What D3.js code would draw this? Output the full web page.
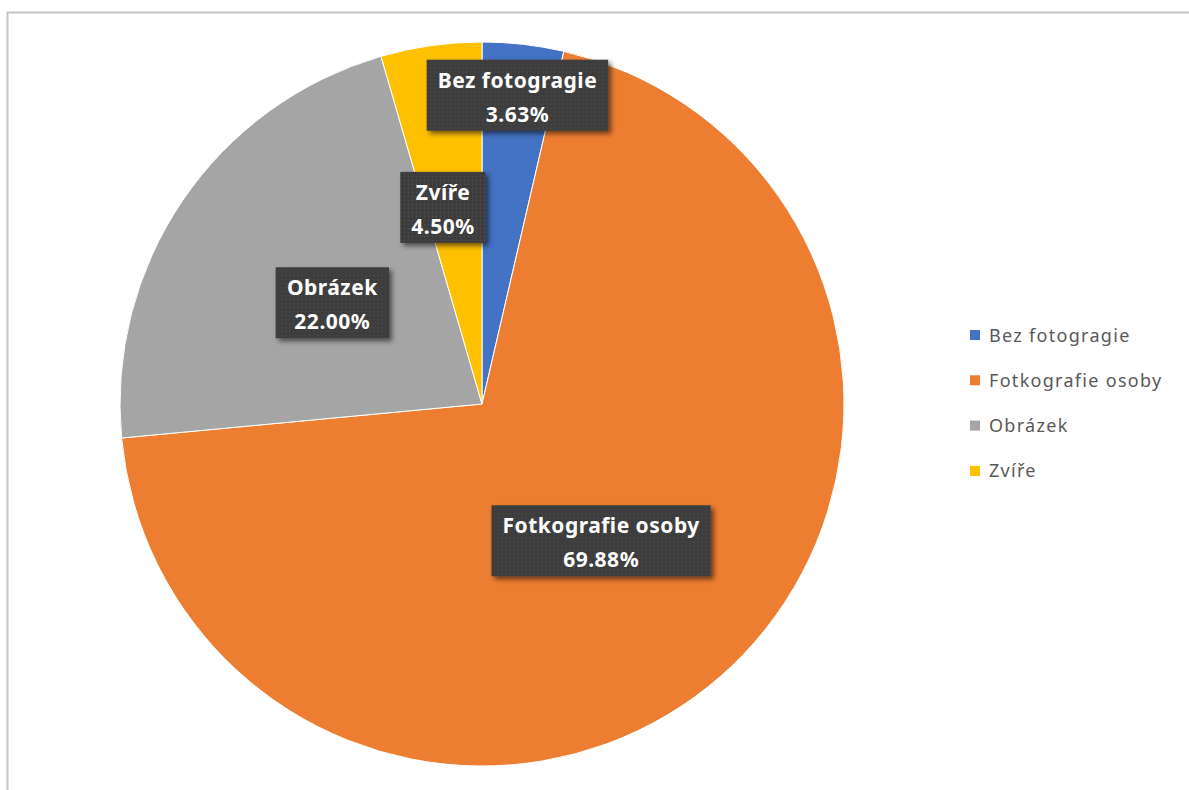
<!DOCTYPE html>
<html>
<head>
<meta charset="utf-8">
<script src="https://cdn.jsdelivr.net/npm/d3@7"></script>
<style>
  body { margin: 0; background: #fff; }
  svg { display: block; }
</style>
</head>
<body>
<script>
// data
const categories = ["Bez fotogragie", "Fotkografie osoby", "Obrázek", "Zvíře"];
const shares = [3.63, 69.88, 22.00, 4.50];
const colors = ["#4472C4", "#ED7D31", "#A5A5A5", "#FFC000"];

// where each data label sits (fraction of radius) and a little nudge
const labelRadius = [0.86, 0.5, 0.5, 0.55];
const labelNudge = [[0, 0], [0, 0], [0, 0], [-11, 0]];

function main() {
    const width = 1189, height = 790;
    const cx = 482, cy = 404, r = 362;

    let svg = d3.select("body").append("svg")
        .attr("width", width)
        .attr("height", height);

    // dotted dark fill + shadow for the labels
    let defs = svg.append("defs");
    let pat = defs.append("pattern")
        .attr("id", "dots")
        .attr("width", 4).attr("height", 4)
        .attr("patternUnits", "userSpaceOnUse");
    pat.append("rect").attr("width", 4).attr("height", 4).attr("fill", "#3c3c3c");
    pat.append("rect").attr("x", 1).attr("y", 1).attr("width", 1).attr("height", 1).attr("fill", "#555");

    let f = defs.append("filter").attr("id", "shadow")
        .attr("x", "-20%").attr("y", "-20%").attr("width", "140%").attr("height", "150%");
    f.append("feDropShadow")
        .attr("dx", 3).attr("dy", 3)
        .attr("stdDeviation", 2.5)
        .attr("flood-color", "#000")
        .attr("flood-opacity", 0.55);

    // chart area border (only top/left visible)
    svg.append("rect")
        .attr("x", 7.5).attr("y", 12.5)
        .attr("width", 1400).attr("height", 1000)
        .attr("fill", "none")
        .attr("stroke", "#c6c6c6")
        .attr("stroke-width", 2);

    const data = categories.map((c, i) => ({ name: c, value: shares[i], color: colors[i], i: i }));

    let pie = d3.pie().sort(null).value(d => d.value);
    let arcs = pie(data);
    let arc = d3.arc().innerRadius(0).outerRadius(r);

    let g = svg.append("g").attr("transform", `translate(${cx},${cy})`);

    g.selectAll("path.slice")
        .data(arcs)
        .join("path")
        .attr("class", "slice")
        .attr("d", arc)
        .attr("fill", d => d.data.color)
        .attr("stroke", "#fff")
        .attr("stroke-width", 1);

    // data labels
    let labels = g.selectAll("g.lbl")
        .data(arcs)
        .join("g")
        .attr("class", "lbl")
        .attr("transform", d => {
            let lr = labelRadius[d.data.i] * r;
            let c = d3.arc().innerRadius(lr).outerRadius(lr).centroid(d);
            let n = labelNudge[d.data.i];
            return `translate(${c[0] + n[0]},${c[1] + n[1]})`;
        });

    labels.each(function (d) {
        let el = d3.select(this);
        let box = el.append("rect")
            .attr("fill", "url(#dots)")
            .attr("filter", "url(#shadow)");
        let t = el.append("text")
            .attr("text-anchor", "middle")
            .attr("fill", "#fff")
            .style("font-family", "'Noto Sans', 'Open Sans', sans-serif")
            .style("font-weight", "bold")
            .style("font-size", "21px")
            .style("letter-spacing", "0.5px");
        t.append("tspan").attr("x", 0).attr("y", -7).text(d.data.name);
        t.append("tspan").attr("x", 0).attr("y", 27).text(d.data.value.toFixed(2) + "%");
        let w = t.node().getBBox().width + 22;
        box.attr("x", -w / 2).attr("y", -35).attr("width", w).attr("height", 71);
    });

    // legend
    let legend = svg.append("g").attr("transform", "translate(970,335)");
    let rows = legend.selectAll("g")
        .data(data)
        .join("g")
        .attr("transform", (d, i) => `translate(0,${i * 45.3})`);
    rows.append("rect")
        .attr("x", 0).attr("y", -5)
        .attr("width", 10).attr("height", 10)
        .attr("fill", d => d.color);
    rows.append("text")
        .attr("x", 19).attr("y", 6.5)
        .attr("fill", "#595959")
        .style("font-family", "'Noto Sans', 'Open Sans', sans-serif")
        .style("font-size", "18px")
        .style("letter-spacing", "1.3px")
        .text(d => d.name);
}

main()
</script>
</body>
</html>
